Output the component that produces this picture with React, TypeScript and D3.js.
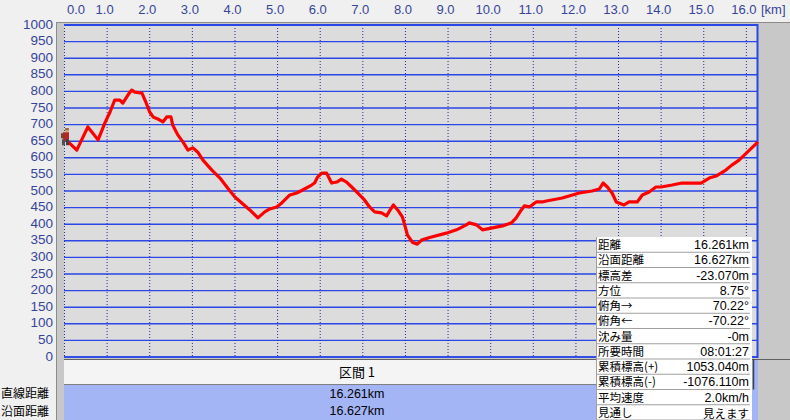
import React from "react";
import * as d3 from "d3";

const distances = [0.0, 0.08, 0.3, 0.56, 0.8, 0.96, 1.08, 1.19, 1.31, 1.38, 1.5, 1.59, 1.66, 1.83, 1.92, 2.01, 2.09, 2.2, 2.32, 2.41, 2.51, 2.55, 2.67, 2.79, 2.91, 3.02, 3.14, 3.26, 3.47, 3.66, 3.84, 4.01, 4.36, 4.55, 4.71, 4.83, 4.99, 5.11, 5.3, 5.46, 5.6, 5.81, 5.88, 5.95, 6.05, 6.16, 6.28, 6.4, 6.51, 6.63, 6.75, 6.89, 7.05, 7.17, 7.29, 7.45, 7.57, 7.64, 7.73, 7.83, 7.94, 7.99, 8.06, 8.18, 8.29, 8.39, 8.58, 8.97, 9.21, 9.44, 9.51, 9.68, 9.82, 10.05, 10.29, 10.5, 10.61, 10.73, 10.8, 10.92, 11.08, 11.22, 11.32, 11.69, 12.09, 12.39, 12.56, 12.65, 12.75, 12.86, 12.96, 13.14, 13.26, 13.45, 13.57, 13.73, 13.89, 14.01, 14.27, 14.5, 14.95, 15.14, 15.3, 15.53, 15.67, 15.84, 16.261];
const elevations = [668, 650, 623, 693, 654, 705, 738, 774, 774, 765, 789, 804, 798, 795, 768, 738, 723, 717, 708, 723, 723, 699, 669, 648, 623, 630, 617, 593, 563, 539, 509, 482, 443, 419, 437, 446, 452, 464, 488, 494, 503, 518, 524, 542, 554, 554, 524, 527, 536, 527, 512, 494, 473, 452, 437, 434, 425, 440, 458, 443, 422, 400, 367, 345, 340, 352, 360, 373, 383, 398, 404, 398, 383, 389, 395, 404, 419, 443, 455, 452, 467, 467, 470, 479, 494, 500, 506, 524, 512, 494, 467, 458, 467, 467, 488, 497, 512, 512, 518, 524, 524, 539, 545, 563, 578, 593, 645];

const xTicks = d3.range(0, 17, 1);
const yTicks = d3.range(0, 1001, 50);

const infoLabels = ["距離", "沿面距離", "標高差", "方位", "俯角→", "俯角←", "沈み量", "所要時間", "累積標高(+)", "累積標高(-)", "平均速度", "見通し"];
const infoValues = ["16.261km", "16.627km", "-23.070m", "8.75°", "70.22°", "-70.22°", "-0m", "08:01:27", "1053.040m", "-1076.110m", "2.0km/h", "見えます"];

const sectionHeader = "区間 1";
const rowLabels = ["直線距離", "沿面距離"];
const rowValues = ["16.261km", "16.627km"];

const FONT = "'Noto Sans CJK JP', 'Liberation Sans', sans-serif";
const NUMFONT = "'Liberation Sans', 'Noto Sans CJK JP', sans-serif";

export default function App() {
  const W = 790, H = 420;
  const x = d3.scaleLinear().domain([0, 16.261]).range([64, 757]);
  const y = d3.scaleLinear().domain([0, 1000]).range([357, 25]);
  const pts: [number, number][] = distances.map((d, i) => [d, elevations[i]]);
  const line = d3.line<[number, number]>().x(d => x(d[0])).y(d => y(d[1]));
  const axisColor = "#36449a";
  const rowH = 15.25;
  const panelX = 596, panelY = 237, panelW = 156;

  const sx = x(0), sy = y(668);

  return (
    <div style={{ position: "fixed", left: 0, top: 0, width: W, height: H, overflow: "hidden" }}>
      <svg width={W} height={H} style={{ display: "block", fontFamily: FONT }}>
        <rect x={0} y={0} width={W} height={H} fill="#f0f0f0" />
        {/* frame */}
        <rect x={56} y={22} width={W - 56} height={H - 22} fill="#c8c8c8" />
        <line x1={56.5} y1={22} x2={56.5} y2={H} stroke="#8c8c8c" />
        <line x1={56} y1={22.5} x2={W} y2={22.5} stroke="#8c8c8c" />
        {/* plot bg */}
        <rect x={64} y={25} width={757 - 64} height={357 - 25} fill="#dcdcdc" />
        {/* horizontal grid */}
        {yTicks.map(v => (
          <line key={"h" + v} x1={64} x2={758} y1={y(v)} y2={y(v)} stroke="#2a46e6" strokeWidth={1.4} />
        ))}
        {/* vertical dotted grid */}
        {xTicks.map(v => (
          <line key={"v" + v} x1={x(v) + 0.5} x2={x(v) + 0.5} y1={25} y2={357} stroke="#1e2e9a" strokeWidth={1} strokeDasharray="1 2" />
        ))}
        {/* plot border top/right */}
        <line x1={64} x2={758} y1={25} y2={25} stroke="#2a46e6" strokeWidth={2} />
        <line x1={757.5} x2={757.5} y1={24} y2={358} stroke="#2a46e6" strokeWidth={2} />
        <line x1={64} x2={758} y1={357} y2={357} stroke="#2a46e6" strokeWidth={1.5} />

        {/* x labels */}
        {xTicks.map(v => (
          <text key={"xl" + v} x={v === 0 ? x(v) + 3 : x(v) - 2} y={14} fontSize={13} fill={axisColor} fontFamily={NUMFONT} textAnchor={v === 0 ? "start" : "middle"}>
            {v.toFixed(1)}
          </text>
        ))}
        <text x={761} y={14} fontSize={13} fill={axisColor} fontFamily={NUMFONT}>[km]</text>
        {/* y labels */}
        {yTicks.map(v => (
          <text key={"yl" + v} x={53} y={y(v) + 3.5} fontSize={13.5} fill={axisColor} fontFamily={NUMFONT} textAnchor="end">
            {v}
          </text>
        ))}

        {/* profile line */}
        <path d={line(pts) || ""} fill="none" stroke="#ff0000" strokeWidth={3.2} strokeLinejoin="round" strokeLinecap="round" />

        {/* hiker icon */}
        <g transform={`translate(${sx - 4},${sy - 7})`}>
          <rect x={3} y={4} width={6} height={7} fill="#b02828" />
          <circle cx={7} cy={2} r={2} fill="#d8a070" />
          <rect x={5} y={0} width={4} height={1.5} fill="#8a5a30" />
          <rect x={2} y={11} width={3} height={6} fill="#505050" />
          <rect x={6} y={11} width={3} height={6} fill="#404040" />
          <rect x={1} y={5} width={2} height={5} fill="#6a4a2a" />
        </g>

        {/* bottom table */}
        <line x1={64} x2={W} y1={359.5} y2={359.5} stroke="#606060" />
        <rect x={64} y={360} width={592} height={24} fill="#f4f4f4" />
        <line x1={64} x2={656} y1={384.5} y2={384.5} stroke="#808080" />
        <rect x={64} y={385} width={592} height={H - 385} fill="#a3b5f5" />
        <text x={357} y={377} fontSize={13} fill="#000" textAnchor="middle">{sectionHeader}</text>
        {rowValues.map((v, i) => (
          <text key={"rv" + i} x={357} y={398 + i * 17} fontSize={12.5} fill="#000" fontFamily={NUMFONT} textAnchor="middle">{v}</text>
        ))}
        {rowLabels.map((v, i) => (
          <text key={"rl" + i} x={1} y={398 + i * 18} fontSize={12} fill="#000">{v}</text>
        ))}
        <rect x={750} y={360} width={8} height={H - 360} fill="#a3b5f5" />

        {/* info panel */}
        <rect x={panelX} y={panelY} width={panelW} height={H - panelY} fill="#ffffff" />
        <line x1={panelX + 0.5} x2={panelX + 0.5} y1={panelY} y2={H} stroke="#a0a0a0" />
        {infoLabels.map((lab, i) => {
          const cjk = infoValues[i] === "見えます";
          return (
            <g key={"inf" + i}>
              <line x1={panelX} x2={panelX + panelW - 2} y1={panelY + (i + 1) * rowH} y2={panelY + (i + 1) * rowH} stroke="#a0a0a0" />
              <text x={panelX + 2} y={panelY + i * rowH + 12} fontSize={11.5} fill="#000">{lab}</text>
              <text x={panelX + panelW - 3} y={panelY + i * rowH + (cjk ? 13 : 12)} fontSize={cjk ? 11.5 : 12.5} fill="#000" fontFamily={cjk ? FONT : NUMFONT} textAnchor="end">{infoValues[i]}</text>
            </g>
          );
        })}
        <line x1={panelX + panelW + 1.5} x2={panelX + panelW + 1.5} y1={panelY + 8 * rowH} y2={panelY + 10 * rowH} stroke="#404040" strokeWidth={1.5} />
      </svg>
    </div>
  );
}
